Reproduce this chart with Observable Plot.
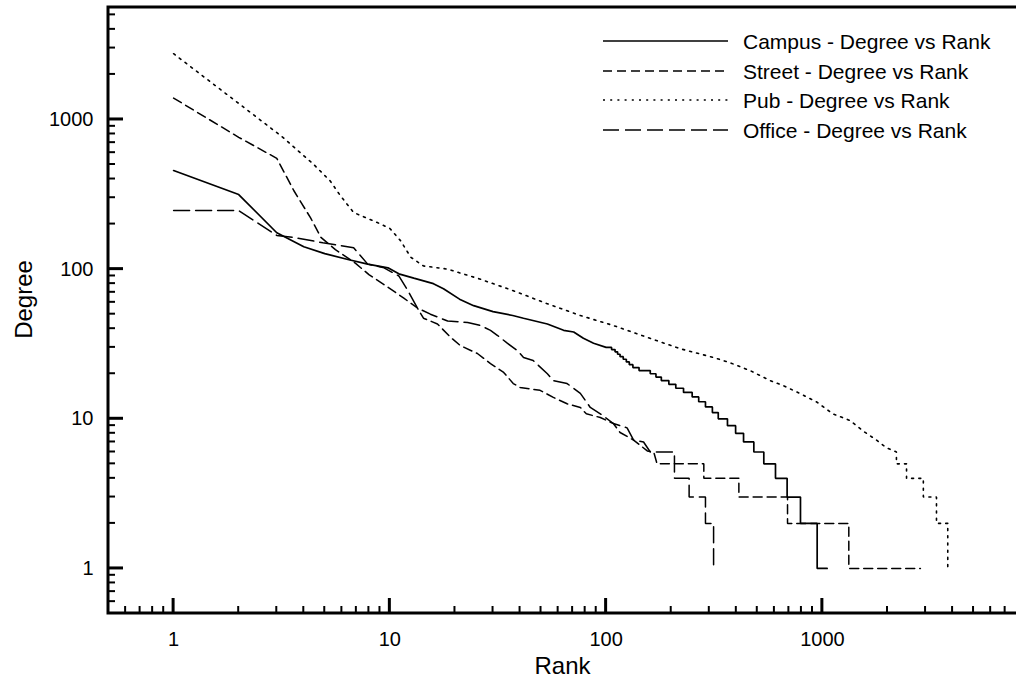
<!DOCTYPE html>
<html>
<head>
<meta charset="utf-8">
<script src="https://cdn.jsdelivr.net/npm/d3@7"></script>
<script src="https://cdn.jsdelivr.net/npm/@observablehq/plot@0.6"></script>
<style>
  body { margin: 0; background: #fff; }
  #chart { width: 1016px; height: 684px; }
</style>
</head>
<body>
<div id="chart"></div>
<script>
// ---- data (rank, degree) ----
const seriesNames = ["Campus - Degree vs Rank", "Street - Degree vs Rank", "Pub - Degree vs Rank", "Office - Degree vs Rank"];

const campus = [[1,456],[2,315],[3,175],[4,141],[5,127],[6.4,116],[7.9,108],[9.8,102],[11,93],[12.9,87],[15.9,80],[17.7,74],[21,63],[24.4,57],[30,52],[37,49],[41.5,47],[53.5,43],[63.6,39],[70.8,38],[78.5,34.5],[87.5,32],[100,30],[106,30],[106,29],[110,29],[110,28],[113,28],[113,27],[116,27],[116,26],[120,26],[120,25],[124,25],[124,24],[128,24],[128,23],[133,23],[133,22],[142,22],[142,21],[160,21],[160,20],[170,20],[170,19],[180,19],[180,18],[195,18],[195,17],[210,17],[210,16],[228,16],[228,15],[250,15],[250,14],[268,14],[268,13],[288,13],[288,12],[310,12],[310,11],[330,11],[330,10],[364,10],[364,9],[397,9],[397,8],[432,8],[432,7],[482,7],[482,6],[536,6],[536,5],[607,5],[607,4],[687,4],[687,3],[792,3],[792,2],[946,2],[946,1],[1052,1]];

const street = [[1,1390],[2,760],[3,550],[3.6,334],[4.3,220],[4.8,163],[5.6,135],[6.9,110],[8,92],[9.5,78],[11.6,64],[13.4,55],[14.3,47],[16.6,43],[19.1,35],[21.2,30.8],[25.4,27.3],[29.2,23.4],[33.6,20.4],[37.2,17.2],[40,16.2],[49.5,15.5],[57,13.9],[66,12.6],[76,11.9],[81,10.8],[94,10.2],[108,9.3],[116,8.1],[134,7.2],[155,6.1],[166,6],[172,5],[283,5],[283,4],[411,4],[411,3],[690,3],[690,2],[1325,2],[1325,1],[2840,1]];

const pub = [[1,2750],[2,1280],[3.2,760],[3.9,590],[4.4,508],[5.3,388],[5.9,310],[6.8,239],[8.8,204],[10,187],[11.2,155],[12.5,120],[14.3,105],[18.5,100],[26,86],[37,72],[53,59],[76,49],[108,42],[155,35],[220,29.4],[313,25.7],[374,23.7],[463,21],[573,18],[657,16.7],[792,14.7],[945,12.9],[1116,10.8],[1340,9.75],[1540,8.3],[1780,7.2],[1980,6.4],[2200,6],[2200,5],[2450,5],[2450,4],[2930,4],[2930,3],[3370,3],[3370,2],[3800,2],[3800,1]];

const office = [[1,246],[2,246],[3,168],[3.6,163],[4.9,150],[6.8,139],[7.9,108],[9.4,102],[11,90],[12.1,72],[13.4,55],[15.4,50],[18.5,45],[22.9,44],[26.2,42],[29.2,39],[31.5,36],[34.9,32],[38.9,28.5],[41.5,25.7],[46,24.5],[53.5,20],[57,18],[66,17.2],[76,14.8],[84.5,11.9],[94,10.8],[108,9.3],[125,8.7],[134,7.2],[149,7],[160,6],[207,6],[207,4],[242,4],[242,3],[288,3],[288,2],[314,2],[314,1],[320,1]];

// ---- ticks ----
const xMajor = [1, 10, 100, 1000];
const xMinor = [0.6,0.7,0.8,0.9, 2,3,4,5,6,7,8,9, 20,30,40,50,60,70,80,90, 200,300,400,500,600,700,800,900, 2000,3000,4000,5000,6000,7000];
const yMajor = [1, 10, 100, 1000];
const yMinor = [0.6,0.7,0.8,0.9, 2,3,4,5,6,7,8,9, 20,30,40,50,60,70,80,90, 200,300,400,500,600,700,800,900, 2000,3000,4000,5000];
const xDomain = [0.5, 7900];
const yDomain = [0.5, 5600];

const dashes = [null, "9,5", "2,5.2", "16,6"];
const widths = [1.7, 1.5, 1.6, 1.5];
const seriesData = [campus, street, pub, office];

const font = "'Liberation Sans', Arial, Helvetica, sans-serif";

const plot = Plot.plot({
  width: 1016,
  height: 684,
  marginLeft: 108,
  marginRight: 0,
  marginTop: 7,
  marginBottom: 71,
  style: { fontFamily: font, fontSize: "20px", color: "#000", background: "#fff" },
  x: { type: "log", domain: xDomain, axis: null },
  y: { type: "log", domain: yDomain, axis: null },
  marks: [
    ...seriesData.map((s, i) => Plot.line(s, {
      x: d => d[0], y: d => d[1],
      stroke: "#000", strokeWidth: widths[i],
      strokeDasharray: dashes[i], strokeLinejoin: "miter", clip: true
    })),
    // tick labels
    Plot.axisX({ ticks: xMajor, tickSize: 0, tickPadding: 18, tickFormat: d => String(d), label: null, fontSize: 20 }),
    Plot.axisY({ ticks: yMajor, tickSize: 0, tickPadding: 15, tickFormat: d => String(d), label: null, fontSize: 20 }),
    // axis titles
    Plot.text(["Rank"], { frameAnchor: "bottom", dy: 53, lineAnchor: "middle", textAnchor: "middle", text: d => d, fontSize: 24, fill: "#000" }),
    Plot.text(["Degree"], { frameAnchor: "left", dx: -84, dy: -11, rotate: -90, textAnchor: "middle", lineAnchor: "middle", text: d => d, fontSize: 24, fill: "#000" })
  ]
});

document.getElementById("chart").appendChild(plot);

// ---- frame and inward ticks, positioned through Plot's scales ----
const svg = d3.select(plot);
const sx = plot.scale("x"), sy = plot.scale("y");
const x0 = sx.apply(xDomain[0]), x1 = sx.apply(xDomain[1]);
const yb = sy.apply(yDomain[0]), yt = sy.apply(yDomain[1]);
const fg = svg.append("g").attr("stroke", "#000").attr("fill", "none");

function tick(x1_, y1_, x2_, y2_, w) {
  fg.append("line").attr("x1", x1_).attr("y1", y1_).attr("x2", x2_).attr("y2", y2_).attr("stroke-width", w);
}
xMinor.forEach(v => { const px = sx.apply(v); tick(px, yb, px, yb - 7, 2); });
xMajor.forEach(v => { const px = sx.apply(v); tick(px, yb, px, yb - 15, 3); });
yMinor.forEach(v => { const py = sy.apply(v); tick(x0, py, x0 + 7, py, 2); });
yMajor.forEach(v => { const py = sy.apply(v); tick(x0, py, x0 + 15, py, 3); });
// left, top, bottom border
fg.append("path")
  .attr("d", `M${x1 + 2},${yt}H${x0}V${yb}H${x1 + 2}`)
  .attr("stroke-width", 3).attr("stroke-linejoin", "miter");

// ---- legend ----
const legendX1 = 603, legendX2 = 728, legendTextX = 743;
const legendRows = [41, 71, 100, 130];
const lg = svg.append("g").attr("class", "legend");
seriesNames.forEach((name, i) => {
  lg.append("line")
    .attr("x1", legendX1).attr("x2", legendX2)
    .attr("y1", legendRows[i]).attr("y2", legendRows[i])
    .attr("stroke", "#000").attr("stroke-width", widths[i])
    .attr("stroke-dasharray", dashes[i]);
  lg.append("text")
    .attr("x", legendTextX).attr("y", legendRows[i]).attr("dy", "0.36em")
    .attr("text-anchor", "start")
    .attr("font-size", 21).attr("font-family", font).attr("fill", "#000")
    .text(name);
});
</script>
</body>
</html>
